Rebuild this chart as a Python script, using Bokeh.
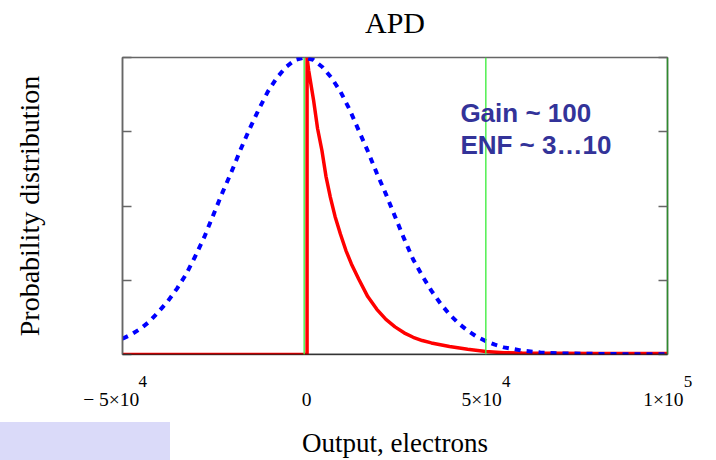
from bokeh.plotting import figure
from bokeh.models import (Range1d, LinearAxis, FixedTicker, Span, Label, Div,
                          CustomLabelingPolicy)
from bokeh.layouts import column
from bokeh.embed import file_html
from bokeh.resources import INLINE

# ---- data ----
gauss_x = [-50000, -47500, -45000, -42500, -40000, -37500, -35000, -32500, -30000, -27500,
           -25000, -22500, -20000, -17500, -15000, -12500, -10000, -7500, -5000, -2500,
           0, 2500, 5000, 7500, 10000, 12500, 15000, 17500, 20000, 22500,
           25000, 27500, 30000, 32500, 35000, 37500, 40000, 42500, 45000, 47500,
           50000, 52500, 55000, 60000, 65000, 70000, 80000, 90000, 100000]
gauss_y = [0.053, 0.068, 0.087, 0.112, 0.145, 0.180, 0.222, 0.270, 0.330, 0.395,
           0.470, 0.545, 0.615, 0.690, 0.760, 0.825, 0.885, 0.932, 0.968, 0.992,
           1.000, 0.992, 0.968, 0.932, 0.885, 0.825, 0.755, 0.685, 0.610, 0.540,
           0.465, 0.390, 0.320, 0.265, 0.215, 0.172, 0.135, 0.105, 0.080, 0.060,
           0.045, 0.033, 0.024, 0.013, 0.007, 0.004, 0.002, 0.001, 0.001]

apd_x = [-50000, 800, 800, 1240, 2600, 3700, 4900, 6000, 7200, 8500,
         10000, 11500, 13000, 15000, 17500, 20000, 22500, 25000, 27500, 30000,
         32500, 35000, 37500, 40000, 45000, 50000, 55000, 60000, 70000, 80000, 100000]
apd_y = [0.0, 0.0, 1.0, 0.956, 0.855, 0.760, 0.686, 0.600, 0.530, 0.465,
         0.405, 0.350, 0.305, 0.254, 0.195, 0.152, 0.118, 0.093, 0.073, 0.058,
         0.047, 0.039, 0.033, 0.027, 0.018, 0.010, 0.006, 0.005, 0.004, 0.003, 0.003]

green_marks = [0, 50000]
x_ticks = [-50000, 0, 50000, 100000]
x_tick_base = ["\u2212 5\u00d710", "0", "5\u00d710", "1\u00d710"]
x_tick_exp = ["4", "", "4", "5"]
y_ticks = [0, 0.25, 0.5, 0.75, 1.0]
note_lines = ["Gain ~ 100", "ENF ~ 3\u202610"]
note_x = 43000
note_y = [0.812, 0.705]

SERIF = "Liberation Serif"
SANS = "Liberation Sans"
X0, X1 = -50000, 100000
FRAME_W = 716 - 122 - 49

# label anchors must stay inside the frame; no-break spaces push the
# visible glyphs to where the reference shows them
NB = "\u00a0"
base_layout = {  # mantissa text -> (anchor shift px, text)
    "\u2212 5\u00d710": (1.0, "\u2212 5\u00d710" + NB * 5),
    "0": (2.5, "0"),
}
exp_layout_last = (-3.0, NB * 11)


def no_labels():
    return CustomLabelingPolicy(code="return new Set()")


def placed(t, shift_px):
    frac = (t - X0) / (X1 - X0) + shift_px / FRAME_W
    return round(X0 + frac * (X1 - X0), 3)


p = figure(width=716, height=460, output_backend="svg", toolbar_location=None, title=None,
           x_range=Range1d(X0, X1), y_range=Range1d(0, 1),
           min_border_left=122, min_border_right=49, min_border_top=57, min_border_bottom=106,
           x_axis_location=None, y_axis_location=None)
p.grid.visible = False
p.outline_line_color = "#666666"
p.outline_line_width = 1.5
p.background_fill_color = "white"
p.border_fill_color = "white"
p.extra_x_ranges = {"lbl": Range1d(X0, X1)}

# title, drawn as the label of a bare top axis
top = LinearAxis(ticker=FixedTicker(ticks=[]), axis_label="APD")
top.axis_line_color = None
top.major_tick_line_color = None
top.minor_tick_line_color = None
top.major_tick_in = 0
top.major_tick_out = 0
top.major_label_standoff = 0
top.major_label_text_font_size = "1px"
top.axis_label_text_font = SERIF
top.axis_label_text_font_size = "30px"
top.axis_label_text_font_style = "normal"
top.axis_label_text_color = "black"
top.axis_label_standoff = 19
p.add_layout(top, "above")


def side_axis(side, line_color, label=None):
    ax = LinearAxis(ticker=FixedTicker(ticks=y_ticks), major_label_policy=no_labels(),
                    major_label_overrides={t: "" for t in y_ticks})
    ax.major_label_text_font_size = "1px"
    ax.major_label_standoff = 0
    ax.major_tick_in = 9
    ax.major_tick_out = 0
    ax.minor_tick_line_color = None
    ax.major_tick_line_color = "#666666"
    ax.major_tick_line_width = 1.5
    ax.axis_line_color = line_color
    ax.axis_line_width = 1.5
    if label:
        ax.axis_label = label
        ax.axis_label_text_font = SERIF
        ax.axis_label_text_font_size = "28px"
        ax.axis_label_text_font_style = "normal"
        ax.axis_label_text_color = "black"
        ax.axis_label_standoff = 78
    p.add_layout(ax, side)


side_axis("left", "#666666", "Probability distribution")
side_axis("right", "#2E8B2E")

# exponent row (closest to the frame)
exp_pos, exp_txt = [], []
for t, e in zip(x_ticks, x_tick_exp):
    if not e:
        continue
    if t == X1:
        shift, pad = exp_layout_last
        exp_pos.append(placed(t, shift))
        exp_txt.append(pad + e)
    else:
        exp_pos.append(placed(t, 20.3))
        exp_txt.append(e)
ex = LinearAxis(x_range_name="lbl", ticker=FixedTicker(ticks=exp_pos),
                major_label_overrides={v: s for v, s in zip(exp_pos, exp_txt)})
ex.major_tick_line_color = None
ex.minor_tick_line_color = None
ex.major_tick_in = 0
ex.major_tick_out = 0
ex.axis_line_color = None
ex.major_label_text_font = SERIF
ex.major_label_text_font_size = "17px"
ex.major_label_text_color = "black"
ex.major_label_standoff = 17
p.add_layout(ex, "below")

# mantissa row
base_pos, base_txt = [], []
for t, s in zip(x_ticks, x_tick_base):
    shift, txt = base_layout.get(s, (-4.1, s))
    base_pos.append(placed(t, shift))
    base_txt.append(txt)
bx = LinearAxis(x_range_name="lbl", ticker=FixedTicker(ticks=base_pos),
                major_label_overrides={v: s for v, s in zip(base_pos, base_txt)},
                axis_label="Output, electrons")
bx.major_tick_line_color = None
bx.minor_tick_line_color = None
bx.major_tick_in = 0
bx.major_tick_out = 0
bx.axis_line_color = None
bx.major_label_text_font = SERIF
bx.major_label_text_font_size = "19.5px"
bx.major_label_text_color = "black"
bx.major_label_standoff = -5
bx.axis_label_text_font = SERIF
bx.axis_label_text_font_size = "27px"
bx.axis_label_text_font_style = "normal"
bx.axis_label_text_color = "black"
bx.axis_label_standoff = 15
p.add_layout(bx, "below")

# black bottom border
p.add_layout(Span(location=0, dimension="width", line_color="black", line_width=1.5))

for gx in green_marks:
    p.add_layout(Span(location=gx, dimension="height", line_color="#44EE44", line_width=1.4))

p.line(apd_x, apd_y, line_color="#FF0000", line_width=3.5)
p.line(gauss_x, gauss_y, line_color="#0000FF", line_width=4, line_dash="6 6")

for t, yy in zip(note_lines, note_y):
    p.add_layout(Label(x=note_x, y=yy, text=t, text_font=SANS, text_font_size="26px",
                       text_font_style="bold", text_color="#333399", text_baseline="alphabetic"))

patch = Div(text="", width=170, height=38, margin=(-38, 0, 0, 0),
            styles={"background-color": "#DADAF9"})
layout = column(p, patch, spacing=0)

open("out.html", "w").write(file_html(layout, INLINE))
